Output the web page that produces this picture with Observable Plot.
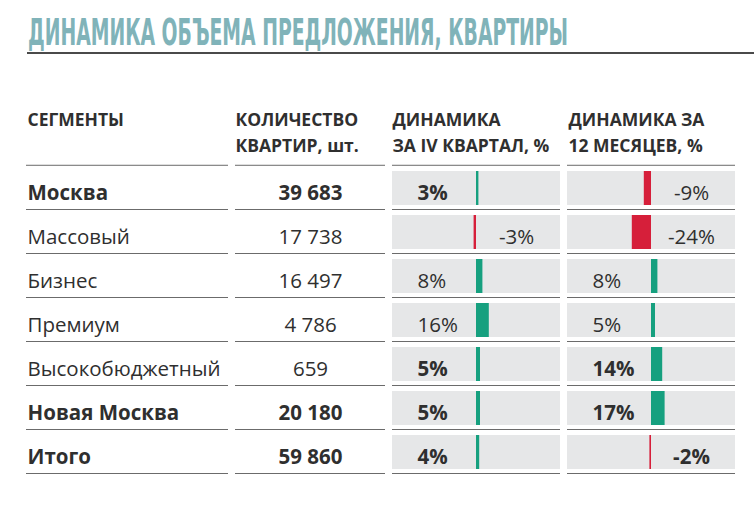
<!DOCTYPE html>
<html>
<head>
<meta charset="utf-8">
<script src="https://cdn.jsdelivr.net/npm/d3@7"></script>
<script src="https://cdn.jsdelivr.net/npm/@observablehq/plot@0.6"></script>
<style>
  html, body { margin: 0; padding: 0; background: #fff; }
  #wrap { position: relative; width: 754px; height: 508px; overflow: hidden; }
  #title {
    position: absolute; left: 28px; top: 14px;
    font-family: "Liberation Sans Narrow", "DejaVu Sans Condensed", sans-serif;
    font-weight: bold; font-size: 37px; line-height: 1;
    color: #80b3b9; white-space: nowrap; transform-origin: 0 0;
  }
  #underline { position: absolute; left: 27px; right: 0; top: 52px; height: 2px; background: #4a4a4a; }
  #chart { position: absolute; left: 0; top: 0; }
</style>
</head>
<body>
<div id="wrap">
  <div id="chart"></div>
  <div id="title">ДИНАМИКА ОБЪЕМА ПРЕДЛОЖЕНИЯ, КВАРТИРЫ</div>
  <div id="underline"></div>
</div>
<script>
// ---- data ----
const segments = ["Москва", "Массовый", "Бизнес", "Премиум", "Высокобюджетный", "Новая Москва", "Итого"];
const counts   = [39683, 17738, 16497, 4786, 659, 20180, 59860];
const q4       = [3, -3, 8, 16, 5, 5, 4];
const y12      = [-9, -24, 8, 5, 14, 17, -2];
const boldRow  = [true, false, false, false, false, true, true];
const boldQ4   = [true, false, false, false, true, true, true];
const boldY12  = [false, false, false, false, true, true, true];
const headers  = ["СЕГМЕНТЫ", "КОЛИЧЕСТВО\nКВАРТИР, шт.", "ДИНАМИКА\nЗА IV КВАРТАЛ, %", "ДИНАМИКА ЗА\n12 МЕСЯЦЕВ, %"];

// ---- layout (pixels) ----
const W = 754, H = 508, K = 0.8;          // K: pixels per percentage point
const Z3 = 476, Z4 = 651;                 // zero lines of the two bar columns
const u = px => (px - Z3) / K;            // layout pixel -> x-scale units (percent)
const colSpans = [[26, 228], [235, 385], [392, 560], [567, 735]];
const headerX = [27, 235, 392, 568];
const TOP = 163, BOTTOM = 476;
const bw = (BOTTOM - TOP) / segments.length;

const GREEN = "#16a07f", RED = "#d61f3a", GRAY = "#e6e7e8", LINE = "#585858", TXT = "#2f2f2f";
const FONT = "Open Sans";
const FS = 20.5;

const fmt = n => d3.format(",")(n).replace(/,/g, "\u00a0");

const rows = segments.map((s, i) => ({
  seg: s, count: counts[i], q4: q4[i], y12: y12[i],
  bold: boldRow[i], bq4: boldQ4[i], by12: boldY12[i]
}));

const lineCells = colSpans.flatMap(([a, b]) => rows.map(r => ({seg: r.seg, a, b})));
const grayCells = colSpans.slice(2).flatMap(([a, b]) => rows.map(r => ({seg: r.seg, a, b})));
const headerCells = headers.map((h, i) => ({text: h, x: headerX[i]}));

function pctMarks(key, boldKey, zeroUnits) {
  const marks = [];
  for (const bold of [true, false]) {
    marks.push(Plot.text(rows, {
      filter: d => d[key] >= 0 && d[boldKey] === bold,
      x: () => zeroUnits, y: "seg", text: d => d[key] + "%",
      textAnchor: "start", dx: -59, dy: 5, fontSize: FS, fontFamily: FONT,
      fontWeight: bold ? "bold" : "normal", fill: TXT
    }));
    marks.push(Plot.text(rows, {
      filter: d => d[key] < 0 && d[boldKey] === bold,
      x: () => zeroUnits, y: "seg", text: d => d[key] + "%",
      textAnchor: "middle", dx: 40, dy: 5, fontSize: FS, fontFamily: FONT,
      fontWeight: bold ? "bold" : "normal", fill: TXT
    }));
  }
  return marks;
}

const plot = Plot.plot({
  width: W, height: H,
  marginLeft: 0, marginRight: 0, marginTop: TOP, marginBottom: H - BOTTOM,
  style: {background: "transparent", fontFamily: FONT, color: TXT},
  x: {type: "linear", domain: [u(0), u(W)], axis: null},
  y: {type: "band", domain: segments, padding: 0, axis: null},
  marks: [
    // gray backgrounds of the dynamics columns
    Plot.rect(grayCells, {x1: d => u(d.a), x2: d => u(d.b), y: "seg", insetTop: 5, insetBottom: 5, fill: GRAY}),
    // row separators (bottom of each row)
    Plot.rect(lineCells, {x1: d => u(d.a), x2: d => u(d.b), y: "seg", insetTop: bw - 1.6, fill: LINE}),
    // header separator (top of first row)
    Plot.rect(colSpans.map(([a, b]) => ({seg: segments[0], a, b})),
      {x1: d => u(d.a), x2: d => u(d.b), y: "seg", insetBottom: bw - 1.6, dy: -1.2, fill: LINE}),
    // bars
    Plot.rect(rows, {x1: () => 0, x2: "q4", y: "seg", insetTop: 5, insetBottom: 5,
      fill: d => d.q4 >= 0 ? GREEN : RED}),
    Plot.rect(rows, {x1: () => u(Z4), x2: d => u(Z4) + d.y12, y: "seg", insetTop: 5, insetBottom: 5,
      fill: d => d.y12 >= 0 ? GREEN : RED}),
    // headers
    Plot.text(headerCells, {x: d => u(d.x), y: () => segments[0], text: "text",
      textAnchor: "start", lineAnchor: "top", lineHeight: 1.48, dy: -81,
      fontSize: 17.5, fontWeight: "bold", fontFamily: FONT, fill: TXT}),
    // segment names
    Plot.text(rows, {filter: d => d.bold, x: () => u(27), y: "seg", text: "seg", textAnchor: "start",
      dy: 5, fontSize: FS, fontWeight: "bold", fontFamily: FONT, fill: TXT}),
    Plot.text(rows, {filter: d => !d.bold, x: () => u(27), y: "seg", text: "seg", textAnchor: "start",
      dy: 5, fontSize: FS, fontWeight: "normal", fontFamily: FONT, fill: TXT}),
    // counts
    Plot.text(rows, {filter: d => d.bold, x: () => u(310), y: "seg", text: d => fmt(d.count),
      textAnchor: "middle", dy: 5, fontSize: FS, fontWeight: "bold", fontFamily: FONT, fill: TXT}),
    Plot.text(rows, {filter: d => !d.bold, x: () => u(310), y: "seg", text: d => fmt(d.count),
      textAnchor: "middle", dy: 5, fontSize: FS, fontWeight: "normal", fontFamily: FONT, fill: TXT}),
    // percentage labels
    ...pctMarks("q4", "bq4", 0),
    ...pctMarks("y12", "by12", u(Z4))
  ]
});
document.getElementById("chart").appendChild(plot);

// fit the condensed title to its width in the reference
const t = document.getElementById("title");
const w = t.getBoundingClientRect().width;
t.style.transform = `scaleX(${540 / w})`;
</script>
</body>
</html>
